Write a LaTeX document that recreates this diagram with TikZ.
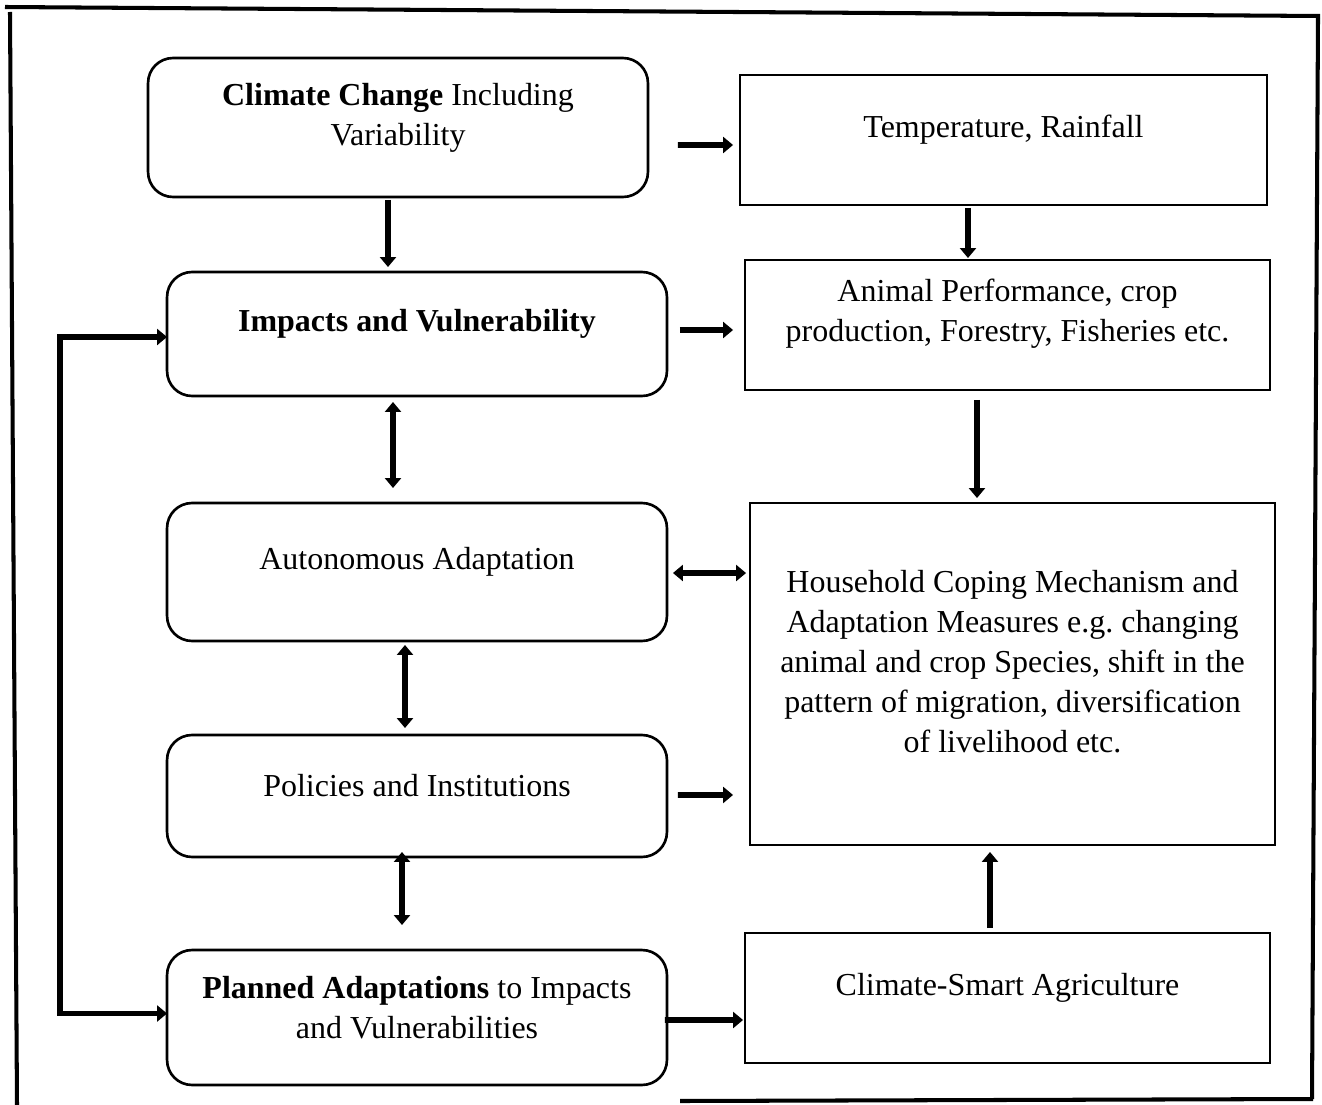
\documentclass[tikz,border=0pt]{standalone}
\usepackage{fontspec}
\setmainfont{Liberation Serif}
\usepackage{tikz}
\usetikzlibrary{arrows.meta, positioning, calc}

\begin{document}
\begin{tikzpicture}[
        x=0.02cm, y=-0.02cm,
        roundbox/.style={rectangle, draw=black, line width=1.5pt, outer sep=0pt, rounded corners=0.5cm, minimum width=10cm, minimum height=#1},
        plainbox/.style={rectangle, draw=black, line width=1.5pt, outer sep=0pt, minimum width=10.5cm, minimum height=#1},
        boxtext/.style={align=center, font=\fontsize{18.2}{22.8}\selectfont\frenchspacing, inner sep=0pt},
        arrow/.style={-{Triangle[length=0.2cm, width=0.32cm]}, line width=3.2pt, black},
        dblarrow/.style={{Triangle[length=0.2cm, width=0.32cm]}-{Triangle[length=0.2cm, width=0.32cm]}, line width=3.2pt, black},
        frame/.style={line width=2.3pt, black}
    ]
    \useasboundingbox (0,0) rectangle (1322,1105);

    % Outer frame (hand drawn)
    \draw[frame] (5,7) -- (1320,16);
    \draw[frame] (10,12) -- (17,1105);
    \draw[frame] (1318,18) -- (1312,1099);
    \draw[frame] (680,1101) -- (1313,1099);

    % Left column: rounded boxes
    \node[roundbox=2.78cm] (cc) at (398,127.5) {};
    \node[roundbox=2.48cm] (iv) at (417,334) {};
    \node[roundbox=2.76cm] (aa) at (417,572) {};
    \node[roundbox=2.44cm] (pi) at (417,796) {};
    \node[roundbox=2.70cm] (pa) at (417,1017.5) {};

    % Right column: plain boxes
    \node[plainbox=2.6cm, minimum width=10.54cm] (temp) at (1003.5,140) {};
    \node[plainbox=2.6cm] (anim) at (1007.5,325) {};
    \node[plainbox=6.84cm] (hh) at (1012.5,674) {};
    \node[plainbox=2.6cm] (csa) at (1007.5,998) {};

    % Box texts
    \node[boxtext] (cc_t) at ([shift={(0,-10)}]cc.center) {\textbf{Climate Change} Including\\Variability};
    \node[boxtext] (iv_t) at ([shift={(0,-10)}]iv.center) {\textbf{Impacts and Vulnerability}};
    \node[boxtext] (aa_t) at ([shift={(0,-10)}]aa.center) {Autonomous Adaptation};
    \node[boxtext] (pi_t) at ([shift={(0,-10)}]pi.center) {Policies and Institutions};
    \node[boxtext] (pa_t) at ([shift={(0,-10)}]pa.center) {\textbf{Planned Adaptations} to Impacts\\and Vulnerabilities};
    \node[boxtext] (temp_t) at ([shift={(0,-10)}]temp.center) {Temperature, Rainfall};
    \node[boxtext] (anim_t) at ([shift={(0,-11)}]anim.center) {Animal Performance, crop\\production, Forestry, Fisheries etc.};
    \node[boxtext] (hh_t) at ([shift={(0,-12)}]hh.center) {Household Coping Mechanism and\\Adaptation Measures e.g. changing\\animal and crop Species, shift in the\\pattern of migration, diversification\\of livelihood etc.};
    \node[boxtext] (csa_t) at ([shift={(0,-10)}]csa.center) {Climate-Smart Agriculture};

    % Horizontal arrows
    \draw[arrow] ([shift={(30,17.5)}]cc.east) -- ([shift={(-7,5)}]temp.west);
    \draw[arrow] ([shift={(13,-4)}]iv.east) -- ([shift={(-12,5)}]anim.west);
    \draw[dblarrow] ([shift={(6,1)}]aa.east) -- ([shift={(-4,70)}]hh.north west);
    \draw[arrow] ([shift={(11,-1)}]pi.east) -- ([shift={(-17,-50)}]hh.south west);
    \draw[arrow] ([shift={(-2,2.5)}]pa.east) -- ([shift={(-2,22)}]csa.west);

    % Vertical arrows
    \draw[arrow] ([shift={(-10,3)}]cc.south) -- ([shift={(-29,-5)}]iv.north);
    \draw[arrow] ([shift={(-35.5,3)}]temp.south) -- ([shift={(-39.5,-2)}]anim.north);
    \draw[dblarrow] ([shift={(-24,6)}]iv.south) -- ([shift={(-24,-15)}]aa.north);
    \draw[arrow] ([shift={(-30.5,10)}]anim.south) -- ([shift={(-35.5,-5)}]hh.north);
    \draw[dblarrow] ([shift={(-12,4)}]aa.south) -- ([shift={(-12,-7)}]pi.north);
    \draw[dblarrow] ([shift={(-15,-5)}]pi.south) -- ([shift={(-15,-25)}]pa.north);
    \draw[arrow] ([shift={(-17.5,-5)}]csa.north) -- ([shift={(-22.5,7)}]hh.south);

    % Feedback loop
    \coordinate (fb) at ([shift={(-107,3)}]iv.west);
    \draw[arrow] (fb) -- ([shift={(0,3)}]iv.west);
    \draw[arrow] ([shift={(0,-2.8)}]fb) |- ([shift={(0,-4)}]pa.west);

    \end{tikzpicture}
\end{document}
